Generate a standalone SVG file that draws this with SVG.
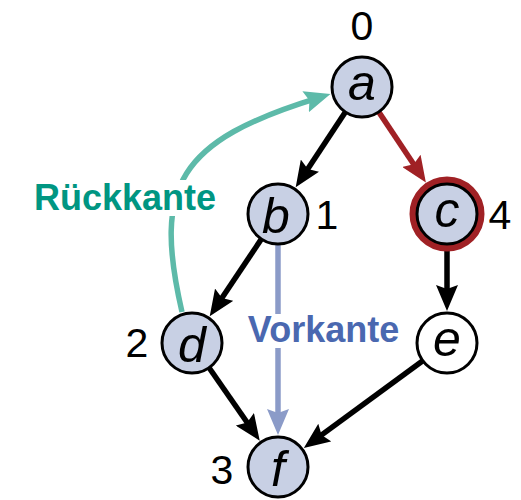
<svg xmlns="http://www.w3.org/2000/svg" width="521" height="500" viewBox="0 0 521 500">
  <style>
    .node { fill: #c8d0e4; stroke: #000; stroke-width: 3; }
    .node.plain { fill: #fff; }
    .name { font-family: "Liberation Sans", Arial, sans-serif; font-style: italic; font-size: 50px; text-anchor: middle; fill: #000; }
    .num { font-family: "Liberation Sans", Arial, sans-serif; font-size: 41px; text-anchor: middle; fill: #000; }
    .edge { fill: none; stroke-width: 5.5; }
    .tree { stroke: #000; marker-end: url(#arrBlack); }
    .label { font-family: "Liberation Sans", Arial, sans-serif; font-weight: bold; font-size: 36px; text-anchor: middle; }
  </style>
  <defs>
    <marker id="arrBlack" markerUnits="userSpaceOnUse" viewBox="0 0 26 22" markerWidth="26" markerHeight="22" refX="14" refY="11" orient="auto">
      <path d="M0,0 L26,11 L0,22 L4,11 z" fill="#000"/>
    </marker>
    <marker id="arrRed" markerUnits="userSpaceOnUse" viewBox="0 0 26 22" markerWidth="26" markerHeight="22" refX="14" refY="11" orient="auto">
      <path d="M0,0 L26,11 L0,22 L4,11 z" fill="#a02125"/>
    </marker>
    <marker id="arrTeal" markerUnits="userSpaceOnUse" viewBox="0 0 26 22" markerWidth="26" markerHeight="22" refX="14" refY="11" orient="auto">
      <path d="M0,0 L26,11 L0,22 L4,11 z" fill="#5dbaa9"/>
    </marker>
    <marker id="arrBlue" markerUnits="userSpaceOnUse" viewBox="0 0 26 22" markerWidth="26" markerHeight="22" refX="14" refY="11" orient="auto">
      <path d="M0,0 L26,11 L0,22 L4,11 z" fill="#8b9bc8"/>
    </marker>
  </defs>

  <g id="connectors">
    <line class="edge tree" x1="345.4" y1="112" x2="302.3" y2="177.3"/>
    <line class="edge" stroke="#a02125" marker-end="url(#arrRed)" x1="378.7" y1="111.9" x2="419.2" y2="172.5"/>
    <line class="edge tree" x1="261.4" y1="239" x2="216.4" y2="306.3"/>
    <line class="edge" stroke="#8b9bc8" marker-end="url(#arrBlue)" x1="278" y1="244" x2="278" y2="423"/>
    <line class="edge tree" x1="447" y1="250" x2="447" y2="299"/>
    <line class="edge tree" x1="209.1" y1="367.7" x2="252.9" y2="430.8"/>
    <line class="edge tree" x1="422.8" y1="360.8" x2="313.5" y2="440.9"/>
    <path class="edge" stroke="#5dbaa9" marker-end="url(#arrTeal)" d="M182,312 C152.8,185.4 177.6,140.8 319,97.6"/>
    <!-- edge labels on white backing -->
    <rect x="28" y="180" width="193" height="36" fill="#fff"/>
    <text class="label" x="125" y="210" fill="#009682">Rückkante</text>
    <rect x="244" y="314" width="160" height="34" fill="#fff"/>
    <text class="label" x="323.5" y="342" fill="#4a68b0">Vorkante</text>
  </g>

  <g id="node-a">
    <circle class="node" cx="362" cy="87" r="30"/>
    <text class="name" x="362" y="100">a</text>
    <text class="num" x="362" y="40">0</text>
  </g>
  <g id="node-b">
    <circle class="node" cx="278" cy="214" r="30"/>
    <text class="name" x="276" y="233">b</text>
    <text class="num" x="327" y="229">1</text>
  </g>
  <g id="node-c">
    <circle cx="447" cy="214" r="34" fill="none" stroke="#a02125" stroke-width="7"/>
    <circle class="node" cx="447" cy="214" r="30"/>
    <text class="name" x="447" y="227">c</text>
    <text class="num" x="500" y="229">4</text>
  </g>
  <g id="node-d">
    <circle class="node" cx="192" cy="343" r="30"/>
    <text class="name" x="192" y="362">d</text>
    <text class="num" x="137" y="357">2</text>
  </g>
  <g id="node-e">
    <circle class="node plain" cx="447" cy="343" r="30"/>
    <text class="name" x="447" y="356">e</text>
  </g>
  <g id="node-f">
    <circle class="node" cx="278" cy="467" r="30"/>
    <text class="name" x="278" y="486">f</text>
    <text class="num" x="222" y="484">3</text>
  </g>
</svg>
